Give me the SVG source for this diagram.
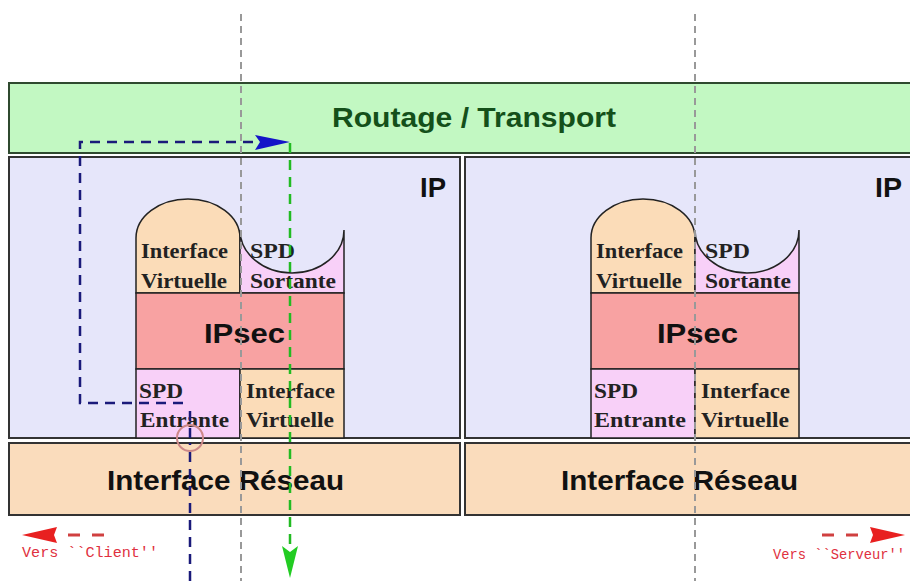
<svg xmlns="http://www.w3.org/2000/svg" width="910" height="581" viewBox="0 0 910 581">
<style>
.box{stroke:#333;stroke-width:2}
.green{fill:#c2f8c2;stroke:#2f4a2f;stroke-width:2}
.ip{fill:#e6e6fa}
.net{fill:#fadcbc}
.vif{fill:#fbdcb8;stroke:#222;stroke-width:1.5}
.spd{fill:#f8d0f8;stroke:#222;stroke-width:1.5}
.ipsec{fill:#f8a2a2;stroke:#222;stroke-width:1.5}
.big{font-family:"Liberation Sans",Arial,sans-serif;font-weight:bold;fill:#111;font-size:28px}
.ser{font-family:"Liberation Serif","Times New Roman",serif;font-weight:bold;font-size:21px;fill:#222}
.red{font-family:"Liberation Mono","DejaVu Sans Mono",monospace;font-size:14px;fill:#e03040}
.grey{stroke:#999;stroke-width:2;stroke-dasharray:7 5;fill:none}
.blue{stroke:#1a1a7a;stroke-width:2.5;stroke-dasharray:10 7;fill:none}
.gline{stroke:#22bb22;stroke-width:2.5;stroke-dasharray:10 7;fill:none}
</style>
<rect width="910" height="581" fill="#fff"/>
<g id="routage">
<rect class="green" x="9" y="83" width="905" height="70"/>
<text class="big" x="332" y="127" textLength="284" lengthAdjust="spacingAndGlyphs" style="fill:#14501a">Routage / Transport</text>
</g>
<g id="ip-left">
<rect class="ip box" x="9" y="157" width="451" height="281"/>
<text class="big" x="420" y="197" textLength="26" lengthAdjust="spacingAndGlyphs">IP</text>
</g>
<g id="ip-right">
<rect class="ip box" x="465" y="157" width="450" height="281"/>
<text class="big" x="875" y="197" textLength="27" lengthAdjust="spacingAndGlyphs">IP</text>
</g>
<g id="net-left">
<rect class="net box" x="9" y="443" width="451" height="72"/>
<text class="big" x="107" y="490" textLength="237" lengthAdjust="spacingAndGlyphs">Interface Réseau</text>
</g>
<g id="net-right">
<rect class="net box" x="465" y="443" width="450" height="72"/>
<text class="big" x="561" y="490" textLength="237" lengthAdjust="spacingAndGlyphs">Interface Réseau</text>
</g>
<g id="stack-left">
<path class="vif" d="M136,293 V238 A52,39 0 0 1 240,238 V293 Z"/>
<path class="spd" d="M240,293 V230 A52,43 0 0 0 344,230 V293 Z"/>
<text class="ser" x="141" y="258" textLength="87" lengthAdjust="spacingAndGlyphs">Interface</text>
<text class="ser" x="141" y="288" textLength="86" lengthAdjust="spacingAndGlyphs">Virtuelle</text>
<text class="ser" x="250" y="258" textLength="45" lengthAdjust="spacingAndGlyphs">SPD</text>
<text class="ser" x="250" y="288" textLength="86" lengthAdjust="spacingAndGlyphs">Sortante</text>
<rect class="ipsec" x="136" y="293" width="208" height="76"/>
<text class="big" x="204" y="343" textLength="81" lengthAdjust="spacingAndGlyphs">IPsec</text>
<rect class="spd" x="136" y="369" width="104" height="69"/>
<rect class="vif" x="240" y="369" width="104" height="69"/>
<text class="ser" x="139" y="398" textLength="44" lengthAdjust="spacingAndGlyphs">SPD</text>
<text class="ser" x="140" y="427" textLength="89" lengthAdjust="spacingAndGlyphs">Entrante</text>
<text class="ser" x="246" y="398" textLength="89" lengthAdjust="spacingAndGlyphs">Interface</text>
<text class="ser" x="246" y="427" textLength="88" lengthAdjust="spacingAndGlyphs">Virtuelle</text>
</g>
<g id="stack-right">
<path class="vif" d="M591,293 V238 A52,39 0 0 1 695,238 V293 Z"/>
<path class="spd" d="M695,293 V230 A52,43 0 0 0 799,230 V293 Z"/>
<text class="ser" x="596" y="258" textLength="87" lengthAdjust="spacingAndGlyphs">Interface</text>
<text class="ser" x="596" y="288" textLength="86" lengthAdjust="spacingAndGlyphs">Virtuelle</text>
<text class="ser" x="705" y="258" textLength="45" lengthAdjust="spacingAndGlyphs">SPD</text>
<text class="ser" x="705" y="288" textLength="86" lengthAdjust="spacingAndGlyphs">Sortante</text>
<rect class="ipsec" x="591" y="293" width="208" height="76"/>
<text class="big" x="657" y="343" textLength="81" lengthAdjust="spacingAndGlyphs">IPsec</text>
<rect class="spd" x="591" y="369" width="104" height="69"/>
<rect class="vif" x="695" y="369" width="104" height="69"/>
<text class="ser" x="594" y="398" textLength="44" lengthAdjust="spacingAndGlyphs">SPD</text>
<text class="ser" x="594" y="427" textLength="92" lengthAdjust="spacingAndGlyphs">Entrante</text>
<text class="ser" x="701" y="398" textLength="89" lengthAdjust="spacingAndGlyphs">Interface</text>
<text class="ser" x="701" y="427" textLength="88" lengthAdjust="spacingAndGlyphs">Virtuelle</text>
</g>
<g id="connectors">
<line class="grey" x1="241" y1="14" x2="241" y2="581"/>
<line class="grey" x1="695" y1="14" x2="695" y2="581"/>
<path class="blue" d="M190,581 V443"/>
<path class="blue" d="M190,438 V408"/>
<path class="blue" d="M183,403 H80 V142 H258"/>
<polygon points="255,135 290,142 255,150 260,142" fill="#1414c8"/>
<path class="gline" d="M290,143 V548"/>
<polygon points="282,546 290,578 298,546 290,552" fill="#22cc22"/>
<circle cx="190" cy="438" r="13" fill="none" stroke="#cc8888" stroke-width="2"/>
<polygon points="22,535 57,527 54,535 57,543" fill="#e82020"/>
<line x1="68" y1="535" x2="106" y2="535" stroke="#d04040" stroke-width="3" stroke-dasharray="12 12"/>
<polygon points="905,535 870,527 873,535 870,543" fill="#e82020"/>
<line x1="822" y1="535" x2="860" y2="535" stroke="#d04040" stroke-width="3" stroke-dasharray="12 12"/>
</g>
<g id="labels">
<text class="red" x="22" y="557" textLength="136" lengthAdjust="spacingAndGlyphs">Vers ``Client''</text>
<text class="red" x="773" y="559" textLength="132" lengthAdjust="spacingAndGlyphs">Vers ``Serveur''</text>
</g>
</svg>
